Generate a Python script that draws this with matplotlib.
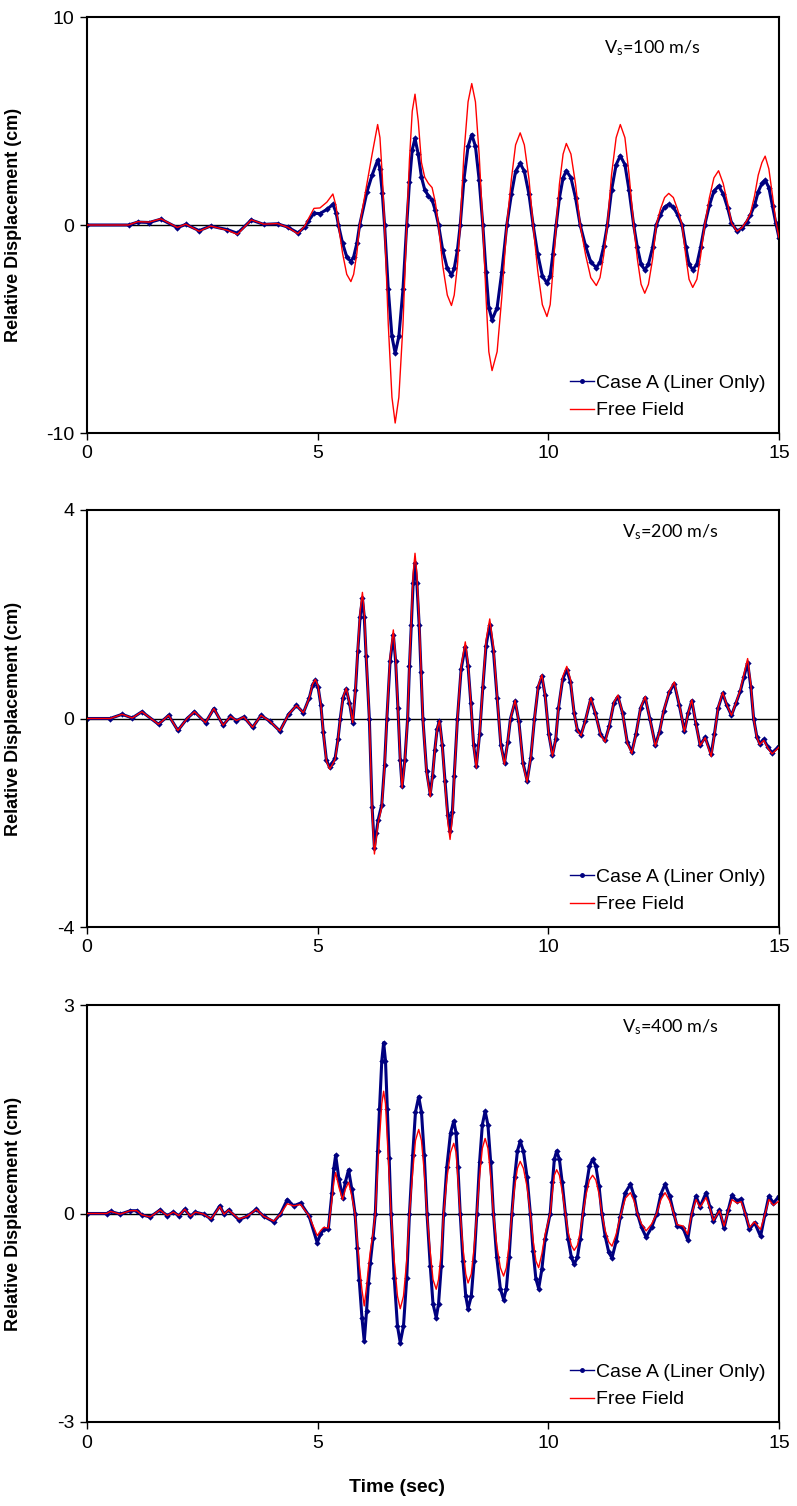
import matplotlib.pyplot as plt

plt.rcParams['font.family'] = ['Liberation Sans', 'DejaVu Sans']
plt.rcParams['mathtext.default'] = 'regular'
plt.rcParams['axes.unicode_minus'] = False

# ---- panel 1 : Vs = 100 m/s  (time in s, displacement in cm) ----
t1 = [0.00, 0.90, 1.10, 1.35, 1.60, 1.96, 2.14, 2.43, 2.68, 3.04, 3.26, 3.56, 3.83, 4.13, 4.35, 4.57, 4.72, 4.80, 4.92, 5.05, 5.20, 5.33, 5.40,
      5.45, 5.54, 5.63, 5.72, 5.78, 5.85,
      5.91, 6.07, 6.18, 6.30, 6.35, 6.40,
      6.45, 6.53, 6.61, 6.68, 6.76, 6.85,
      6.93, 6.99, 7.05, 7.11, 7.18, 7.25, 7.32, 7.40, 7.48, 7.55,
      7.62, 7.71, 7.81, 7.90, 7.96, 8.03,
      8.09, 8.17, 8.26, 8.34, 8.42, 8.50,
      8.58, 8.65, 8.71, 8.78, 8.89, 8.99,
      9.10, 9.20, 9.29, 9.39, 9.48, 9.58,
      9.67, 9.77, 9.87, 9.97, 10.04, 10.10,
      10.17, 10.24, 10.32, 10.39, 10.49, 10.59,
      10.69, 10.81, 10.92, 11.04, 11.12, 11.20,
      11.28, 11.37, 11.47, 11.56, 11.66, 11.75,
      11.85, 11.93, 12.01, 12.09, 12.17, 12.26,
      12.34, 12.43, 12.52, 12.61, 12.71, 12.80,
      12.90, 12.98, 13.05, 13.13, 13.22, 13.30,
      13.39, 13.49, 13.59, 13.69, 13.79, 13.89, 13.97, 14.09, 14.20, 14.30, 14.38, 14.47, 14.55, 14.63, 14.70, 14.78, 14.86, 14.93, 15.00]
case1 = [0.00, 0.00, 0.14, 0.12, 0.28, -0.13, 0.03, -0.27, -0.05, -0.22, -0.40, 0.24, 0.03, 0.06, -0.10, -0.38, -0.10, 0.20, 0.56, 0.55, 0.75, 0.99, 0.60,
         0.00, -0.88, -1.53, -1.76, -1.53, -0.88,
         0.00, 1.60, 2.40, 3.12, 2.70, 1.56,
         0.00, -3.08, -5.36, -6.16, -5.36, -3.08,
         0.00, 2.08, 3.62, 4.16, 3.40, 2.30, 1.70, 1.40, 1.20, 0.70,
         0.00, -1.20, -2.09, -2.40, -2.09, -1.20,
         0.00, 2.18, 3.78, 4.35, 3.78, 2.18,
         0.00, -2.28, -3.97, -4.56, -3.97, -2.28,
         0.00, 1.48, 2.58, 2.96, 2.58, 1.48,
         0.00, -1.40, -2.44, -2.80, -2.44, -1.40,
         0.00, 1.30, 2.27, 2.61, 2.27, 1.30,
         0.00, -1.03, -1.78, -2.05, -1.78, -1.03,
         0.00, 1.67, 2.90, 3.33, 2.90, 1.67,
         0.00, -1.08, -1.88, -2.16, -1.88, -1.08,
         0.00, 0.50, 0.86, 0.99, 0.86, 0.50,
         0.00, -1.08, -1.88, -2.16, -1.88, -1.08,
         0.00, 0.94, 1.63, 1.87, 1.50, 0.80, 0.10, -0.29, -0.15, 0.15, 0.48, 0.95, 1.60, 2.00, 2.16, 1.80, 0.90, 0.10, -0.61]
free1 = [0.00, 0.00, 0.16, 0.14, 0.30, -0.12, 0.04, -0.30, -0.05, -0.25, -0.45, 0.25, 0.04, 0.07, -0.11, -0.42, -0.05, 0.30, 0.80, 0.82, 1.10, 1.49, 0.90,
         0.00, -1.36, -2.37, -2.72, -2.37, -1.36,
         0.00, 2.00, 3.40, 4.83, 4.20, 2.40,
         0.00, -4.76, -8.28, -9.52, -8.28, -4.76,
         0.00, 3.15, 5.47, 6.29, 5.00, 3.00, 2.30, 2.00, 1.80, 1.10,
         0.00, -1.94, -3.37, -3.87, -3.37, -1.94,
         0.00, 3.40, 5.92, 6.80, 5.92, 3.40,
         0.00, -3.50, -6.09, -7.00, -6.09, -3.50,
         0.00, 2.22, 3.85, 4.43, 3.85, 2.22,
         0.00, -2.20, -3.83, -4.40, -3.83, -2.20,
         0.00, 1.96, 3.41, 3.92, 3.41, 1.96,
         0.00, -1.46, -2.53, -2.91, -2.53, -1.46,
         0.00, 2.42, 4.20, 4.83, 4.20, 2.42,
         0.00, -1.64, -2.85, -3.28, -2.85, -1.64,
         0.00, 0.76, 1.32, 1.52, 1.32, 0.76,
         0.00, -1.50, -2.61, -3.00, -2.61, -1.50,
         0.00, 1.30, 2.27, 2.61, 2.00, 1.00, 0.10, -0.30, -0.12, 0.20, 0.55, 1.40, 2.40, 3.00, 3.31, 2.70, 1.40, 0.20, -0.61]

# ---- panel 2 : Vs = 200 m/s ----
t2 = [0.00, 0.50, 0.76, 0.98, 1.19, 1.55, 1.77, 1.97, 2.17, 2.33, 2.57, 2.75, 2.95, 3.11, 3.24, 3.40, 3.59, 3.77, 3.96, 4.18, 4.37, 4.54, 4.69,
      4.82, 4.89, 4.95, 5.01, 5.07, 5.12, 5.19, 5.26, 5.32, 5.38, 5.44, 5.49, 5.55, 5.62, 5.69, 5.76, 5.82, 5.87, 5.92, 5.97, 6.01, 6.05, 6.12, 6.18, 6.23, 6.27, 6.31, 6.39, 6.45,
      6.50, 6.57, 6.64, 6.69, 6.74, 6.79, 6.83, 6.89, 6.95, 6.99, 7.03, 7.07, 7.11, 7.15, 7.20, 7.24, 7.28, 7.36, 7.44, 7.49, 7.54, 7.59, 7.64, 7.70, 7.76, 7.82, 7.87, 7.92, 7.96,
      8.03, 8.11, 8.20, 8.26, 8.32, 8.38, 8.44, 8.51, 8.58, 8.65, 8.73, 8.81, 8.89, 8.97, 9.05, 9.12, 9.18, 9.28, 9.36, 9.45, 9.54, 9.62, 9.70, 9.78, 9.86, 9.93, 10.01, 10.09, 10.16,
      10.22, 10.31, 10.40, 10.48, 10.56, 10.63, 10.71, 10.80, 10.92, 11.02, 11.13, 11.23, 11.32, 11.42, 11.51, 11.61, 11.71, 11.81, 11.90, 12.00, 12.10, 12.20, 12.32, 12.41, 12.50, 12.62,
      12.73, 12.84, 12.95, 13.03, 13.11, 13.20, 13.29, 13.40, 13.53, 13.60, 13.68, 13.78, 13.87, 13.97, 14.07, 14.16, 14.24, 14.32, 14.39, 14.45, 14.52, 14.58, 14.67, 14.76, 14.85, 15.00]
case2 = [0.00, 0.00, 0.08, 0.01, 0.13, -0.11, 0.06, -0.23, 0.00, 0.13, -0.08, 0.19, -0.13, 0.04, -0.04, 0.03, -0.17, 0.06, -0.05, -0.24, 0.08, 0.25, 0.11,
         0.40, 0.65, 0.73, 0.60, 0.25, -0.25, -0.80, -0.94, -0.85, -0.75, -0.40, 0.00, 0.40, 0.56, 0.30, -0.08, 0.55, 1.30, 1.95, 2.31, 1.95, 1.20, 0.00, -1.70, -2.48, -2.20, -1.95, -1.65, -0.90,
         0.00, 1.10, 1.61, 1.10, 0.20, -0.80, -1.30, -0.80, 0.00, 1.00, 1.80, 2.60, 2.98, 2.60, 1.80, 0.90, 0.00, -1.00, -1.45, -1.10, -0.60, -0.20, -0.04, -0.50, -1.20, -1.85, -2.16, -1.80, -1.10,
         0.00, 0.95, 1.38, 1.00, 0.30, -0.50, -0.91, -0.30, 0.60, 1.40, 1.80, 1.30, 0.40, -0.50, -0.85, -0.45, 0.00, 0.33, -0.05, -0.85, -1.19, -0.75, 0.00, 0.60, 0.81, 0.45, -0.30, -0.70, -0.40,
         0.20, 0.75, 0.94, 0.70, 0.10, -0.22, -0.31, -0.05, 0.38, 0.10, -0.30, -0.42, -0.15, 0.30, 0.42, 0.10, -0.45, -0.64, -0.30, 0.20, 0.40, 0.00, -0.51, -0.25, 0.14, 0.50,
         0.67, 0.25, -0.24, 0.10, 0.34, -0.10, -0.51, -0.36, -0.69, -0.30, 0.20, 0.48, 0.25, 0.06, 0.30, 0.52, 0.80, 1.07, 0.60, 0.00, -0.35, -0.48, -0.40, -0.55, -0.66, -0.53]
free2 = [0.00, 0.00, 0.08, 0.01, 0.13, -0.11, 0.06, -0.23, 0.00, 0.13, -0.08, 0.19, -0.13, 0.04, -0.04, 0.03, -0.17, 0.06, -0.05, -0.24, 0.08, 0.25, 0.11,
         0.40, 0.66, 0.75, 0.62, 0.26, -0.25, -0.82, -0.97, -0.88, -0.78, -0.42, 0.00, 0.41, 0.58, 0.30, -0.08, 0.58, 1.35, 2.05, 2.42, 2.05, 1.25, 0.00, -1.80, -2.60, -2.30, -2.00, -1.70, -0.95,
         0.00, 1.18, 1.70, 1.15, 0.20, -0.82, -1.33, -0.82, 0.00, 1.05, 1.90, 2.78, 3.17, 2.78, 1.90, 0.95, 0.00, -1.03, -1.50, -1.12, -0.62, -0.20, -0.04, -0.52, -1.25, -1.98, -2.32, -1.90, -1.15,
         0.00, 1.00, 1.47, 1.05, 0.30, -0.52, -0.95, -0.30, 0.62, 1.50, 1.91, 1.38, 0.42, -0.52, -0.88, -0.45, 0.00, 0.35, -0.05, -0.88, -1.22, -0.75, 0.00, 0.62, 0.84, 0.45, -0.30, -0.72, -0.40,
         0.20, 0.80, 1.00, 0.75, 0.10, -0.23, -0.33, -0.05, 0.40, 0.10, -0.31, -0.45, -0.15, 0.31, 0.45, 0.10, -0.47, -0.67, -0.31, 0.21, 0.42, 0.00, -0.53, -0.26, 0.15, 0.52,
         0.70, 0.26, -0.25, 0.10, 0.36, -0.10, -0.52, -0.37, -0.73, -0.31, 0.21, 0.50, 0.26, 0.06, 0.31, 0.55, 0.85, 1.15, 0.65, 0.00, -0.36, -0.50, -0.42, -0.57, -0.68, -0.55]

# ---- panel 3 : Vs = 400 m/s ----
t3 = [0.00, 0.43, 0.51, 0.72, 0.94, 1.08, 1.19, 1.37, 1.58, 1.74, 1.87, 1.99, 2.12, 2.24, 2.35, 2.53, 2.69, 2.88, 2.97, 3.07, 3.29, 3.47, 3.67, 3.83, 4.05, 4.19, 4.34, 4.48, 4.63, 4.81,
      4.99, 5.06, 5.13, 5.23, 5.31, 5.35, 5.39, 5.46, 5.54, 5.60, 5.67, 5.74, 5.81, 5.86, 5.90, 5.96, 6.01, 6.06, 6.10, 6.14, 6.20, 6.25, 6.30, 6.34, 6.39, 6.43, 6.47, 6.51, 6.55,
      6.59, 6.66, 6.73, 6.79, 6.86, 6.93, 6.99, 7.06, 7.12, 7.19, 7.25, 7.31, 7.37, 7.44, 7.50, 7.57, 7.62, 7.68, 7.73, 7.80, 7.88, 7.95, 8.00, 8.04,
      8.09, 8.15, 8.21, 8.26, 8.33, 8.39, 8.45, 8.51, 8.57, 8.63, 8.69, 8.75, 8.81, 8.88, 8.96, 9.03, 9.09, 9.15,
      9.21, 9.27, 9.33, 9.39, 9.46, 9.54, 9.61, 9.67, 9.73, 9.79, 9.86, 9.93, 10.04, 10.09, 10.13, 10.18, 10.24, 10.30, 10.37, 10.43, 10.50, 10.56, 10.63, 10.69, 10.75, 10.82, 10.89, 10.96, 11.03, 11.10,
      11.16, 11.23, 11.31, 11.38, 11.47, 11.56, 11.67, 11.78, 11.86, 11.93, 12.02, 12.12, 12.24, 12.35, 12.44, 12.53, 12.63, 12.72, 12.79, 12.92, 13.02,
      13.11, 13.20, 13.29, 13.42, 13.50, 13.58, 13.71, 13.81, 13.90, 13.98, 14.09, 14.18, 14.27, 14.36, 14.47, 14.60, 14.70, 14.78, 14.88, 15.00]
case3 = [0.00, 0.00, 0.03, -0.01, 0.04, 0.04, -0.02, -0.05, 0.05, -0.03, 0.02, -0.03, 0.06, -0.04, 0.02, -0.01, -0.08, 0.11, -0.01, 0.05, -0.09, -0.04, 0.06, -0.04, -0.12, -0.01, 0.20, 0.11, 0.15, -0.03,
         -0.42, -0.30, -0.23, -0.23, 0.30, 0.65, 0.84, 0.50, 0.23, 0.45, 0.63, 0.35, 0.00, -0.50, -0.95, -1.50, -1.84, -1.40, -1.00, -0.71, -0.35, 0.00, 0.90, 1.50, 2.20, 2.46, 2.20, 1.50, 0.80,
         0.00, -0.93, -1.62, -1.86, -1.62, -0.93, 0.00, 0.84, 1.46, 1.68, 1.46, 0.84, 0.00, -0.75, -1.30, -1.50, -1.30, -0.75, 0.00, 0.67, 1.16, 1.33, 1.16, 0.67,
         0.00, -0.69, -1.19, -1.37, -1.19, -0.69, 0.00, 0.74, 1.28, 1.47, 1.28, 0.74, 0.00, -0.62, -1.08, -1.24, -1.08, -0.62,
         0.00, 0.52, 0.90, 1.04, 0.90, 0.52, 0.00, -0.54, -0.94, -1.08, -0.80, -0.37, 0.00, 0.45, 0.78, 0.90, 0.78, 0.45, 0.00, -0.37, -0.63, -0.73, -0.63, -0.37, 0.00, 0.39, 0.68, 0.78, 0.68, 0.39,
         0.00, -0.32, -0.56, -0.64, -0.40, -0.05, 0.30, 0.42, 0.25, 0.00, -0.20, -0.34, -0.20, 0.00, 0.28, 0.42, 0.25, 0.00, -0.18, -0.21, -0.38,
         0.00, 0.25, 0.10, 0.30, 0.10, -0.11, 0.05, -0.21, 0.05, 0.26, 0.18, 0.21, 0.00, -0.23, -0.13, -0.33, 0.00, 0.25, 0.15, 0.25]
free3 = [0.00, 0.00, 0.03, -0.01, 0.04, 0.04, -0.02, -0.05, 0.05, -0.03, 0.02, -0.03, 0.06, -0.04, 0.02, -0.01, -0.08, 0.10, -0.01, 0.05, -0.08, -0.04, 0.06, -0.04, -0.11, -0.01, 0.14, 0.11, 0.13, -0.03,
         -0.32, -0.25, -0.20, -0.21, 0.20, 0.45, 0.59, 0.38, 0.20, 0.35, 0.45, 0.25, 0.00, -0.40, -0.72, -1.10, -1.33, -1.05, -0.78, -0.55, -0.28, 0.00, 0.65, 1.08, 1.58, 1.76, 1.58, 1.08, 0.55,
         0.00, -0.68, -1.19, -1.37, -1.19, -0.68, 0.00, 0.60, 1.05, 1.21, 1.05, 0.60, 0.00, -0.55, -0.95, -1.09, -0.95, -0.55, 0.00, 0.50, 0.88, 1.01, 0.88, 0.50,
         0.00, -0.50, -0.87, -1.00, -0.87, -0.50, 0.00, 0.54, 0.94, 1.08, 0.94, 0.54, 0.00, -0.45, -0.78, -0.90, -0.78, -0.45,
         0.00, 0.38, 0.65, 0.75, 0.65, 0.38, 0.00, -0.39, -0.68, -0.78, -0.58, -0.30, 0.00, 0.32, 0.55, 0.63, 0.55, 0.32, 0.00, -0.27, -0.46, -0.53, -0.46, -0.27, 0.00, 0.28, 0.48, 0.55, 0.48, 0.28,
         0.00, -0.24, -0.41, -0.47, -0.30, -0.04, 0.22, 0.30, 0.18, 0.00, -0.15, -0.25, -0.15, 0.00, 0.20, 0.30, 0.18, 0.00, -0.16, -0.18, -0.30,
         0.00, 0.20, 0.09, 0.23, 0.08, -0.10, 0.04, -0.18, 0.04, 0.20, 0.15, 0.17, 0.00, -0.20, -0.12, -0.23, 0.00, 0.20, 0.12, 0.18]

y_limits = [10, 4, 3]
vs_labels = ['V$_s$=100 m/s', 'V$_s$=200 m/s', 'V$_s$=400 m/s']

# pixel layout of the three panels (top, bottom) and the Vs label anchor
tops = [17, 510, 1005]
bottoms = [433, 927, 1422]
vs_pos = [(604, 48), (622, 532), (622, 1027)]

W, H = 797, 1506
fig = plt.figure(figsize=(W / 100, H / 100), dpi=100)

series = [(t1, case1, free1), (t2, case2, free2), (t3, case3, free3)]
for i, (t, case, free) in enumerate(series):
    top, bot = tops[i], bottoms[i]
    lim = y_limits[i]
    ax = fig.add_axes([87 / W, 1 - bot / H, (779 - 87) / W, (bot - top) / H])
    # thick navy trace mimics the densely packed markers of the original
    ax.plot(t, case, color='#000080', lw=2.2, marker='D', ms=3.2, mew=0, zorder=2)
    ax.plot(t, free, color='#ff0000', lw=1.0, zorder=3)
    # legend proxies (thin line + dot, as in the source legend)
    ax.plot([], [], color='#000080', lw=1.0, marker='o', ms=2.5,
            label='Case A (Liner Only)')
    ax.plot([], [], color='#ff0000', lw=1.0, label='Free Field')
    ax.axhline(0, color='black', lw=1.0, zorder=1)
    ax.set_xlim(0, 15)
    ax.set_ylim(-lim, lim)
    ax.set_xticks([0, 5, 10, 15])
    ax.set_yticks([-lim, 0, lim])
    ax.tick_params(direction='out', length=5, width=1, labelsize=14, pad=4)
    for s in ax.spines.values():
        s.set_linewidth(1.5)
    ax.set_ylabel('Relative Displacement (cm)', fontsize=13, fontweight='bold')
    ax.yaxis.set_label_coords(-0.094, 0.5)
    ax.legend(loc='lower right', frameon=False, fontsize=14, handlelength=1.25,
              handletextpad=0.1, labelspacing=0.5, borderaxespad=0.3)
    vx, vy = vs_pos[i]
    fig.text(vx / W, 1 - vy / H, vs_labels[i], fontsize=13,
             family=['Lato', 'DejaVu Sans'], va='center', ha='left')

fig.text(397 / W, 1 - 1488 / H, 'Time (sec)', fontsize=14, fontweight='bold',
         ha='center', va='center')

fig.savefig('out.png', dpi=100)
